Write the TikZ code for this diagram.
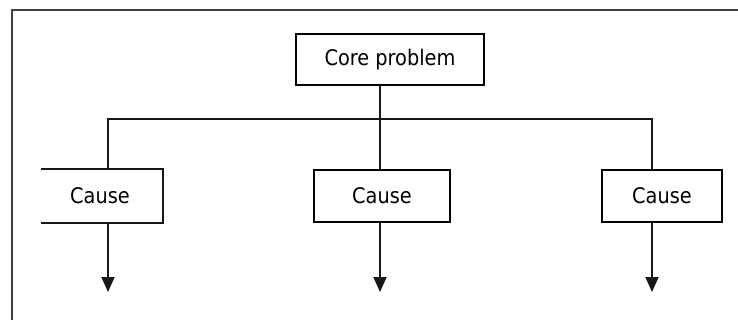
\documentclass[tikz,border=0pt]{standalone}
\usepackage{fontspec}
\setmainfont{DejaVu Sans Condensed}
\usetikzlibrary{arrows.meta}
\begin{document}
\begin{tikzpicture}[x=1pt,y=-1pt,
  box/.style={draw=black,line width=1.9pt,inner sep=0pt,font=\fontsize{21.5}{24}\selectfont,minimum height=52pt},
  openbox/.style={box,draw=none},
  link/.style={line width=1.9pt,draw=black!90},
  arr/.style={link,-{Triangle[width=13pt,length=15pt]}},
  frame/.style={line width=1.3pt,draw=black!75}]
\useasboundingbox (0,0) rectangle (738,320);
\draw[frame] (12,320) -- (12,10) -- (738,10);
\node[box,minimum width=188pt,minimum height=51pt] (core) at (390,59.5) {Core problem};
\node[openbox,minimum width=120pt] (c1) at (102,196) {\hspace*{-4pt}Cause};
\draw[link] (c1.north west) -- (c1.north east) -- (c1.south east) -- (c1.south west);
\node[box,minimum width=136pt] (c2) at (382,196) {Cause};
\node[box,minimum width=120pt] (c3) at (662,196) {Cause};
\coordinate (b1) at (108,119);
\coordinate (b2) at (380,119);
\coordinate (b3) at (652,119);
\coordinate (a1) at (108,292);
\coordinate (a2) at (380,292);
\coordinate (a3) at (652,292);
\draw[link] (core.south -| b2) -- (b2);
\draw[link] (b1 |- c1.north) -- (b1) -- (b3) -- (b3 |- c3.north);
\draw[link] (b2) -- (b2 |- c2.north);
\draw[arr] (b1 |- c1.south) -- (a1);
\draw[arr] (b2 |- c2.south) -- (a2);
\draw[arr] (b3 |- c3.south) -- (a3);
\end{tikzpicture}
\end{document}
